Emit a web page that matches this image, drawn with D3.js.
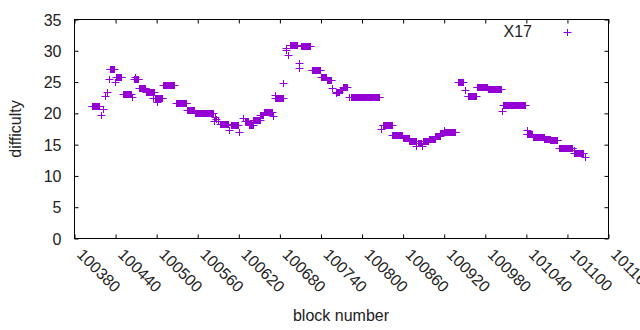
<!DOCTYPE html>
<html>
<head>
<meta charset="utf-8">
<script src="https://cdn.jsdelivr.net/npm/d3@7"></script>
<style>
  html, body { margin: 0; padding: 0; background: #fff; }
  svg { display: block; }
  text { font-family: "Liberation Sans", Arial, sans-serif; font-size: 16px; fill: #222; }
</style>
</head>
<body>
<svg id="chart" width="640" height="330"></svg>
<script>
// ---- data ----
const seriesName = "X17";
const xTickValues = [100380, 100440, 100500, 100560, 100620, 100680, 100740, 100800, 100860, 100920, 100980, 101040, 101100, 101160];
const yTickValues = [0, 5, 10, 15, 20, 25, 30, 35];

const blockNumber = [
  100406,100407,100408,100409,100410,100411,100412,100413,100414,100415,100416,100417,
  100420,100423,100425,100428,100431,
  100432,100433,100434,100435,100436,100437,100438,
  100440,
  100442,100443,100444,100445,100446,100447,100448,100449,
  100452,100453,100454,100455,100456,100457,100458,100459,100460,100461,100462,100463,
  100465,
  100468,100469,100470,100471,100472,100473,100474,100469,
  100475,100476,100477,100478,100479,100480,100481,100482,100483,100484,
  100485,100486,100487,100488,100489,100490,100491,100492,100493,100494,100495,100496,100497,100496,
  100499,100500,100501,100502,100503,100504,100505,100506,100507,100508,100509,100501,
  100510,100511,100512,100513,100514,100515,100516,100517,100518,100519,100520,100521,100522,100523,100524,100525,100526,
  100529,100530,100531,100532,100533,100534,100535,100536,100537,100538,100539,100540,100541,100542,100543,100544,
  100545,100546,100547,100548,100549,100550,100551,100552,100553,100554,100555,100556,
  100557,100558,100559,100560,100561,100562,100563,100564,100565,100566,100567,100568,100569,100570,
  100571,100572,100573,100574,100575,100576,100577,100578,100579,100580,100581,100582,100583,
  100584,100586,100588,100590,
  100593,100594,100595,100596,100597,100598,100599,100600,100601,100602,100603,100604,100605,
  100607,
  100610,100611,100612,100613,100614,100615,100616,100617,100618,100619,
  100621,100627,
  100630,100631,100632,100633,100634,100635,100636,100637,100638,100639,100640,100641,
  100642,100643,100644,100645,100646,100647,100648,100649,100650,100651,
  100652,100653,100654,100655,100656,
  100657,100658,100659,100660,100661,100662,100663,100664,100665,100666,100667,100668,100669,
  100670,100673,
  100674,100675,100676,100677,100678,100679,100680,100681,100682,100683,100684,100685,
  100686,100689,100690,100693,
  100695,100696,100697,100698,100699,100700,100701,100702,100703,100704,100705,100706,
  100708,100709,
  100711,100712,100713,100714,100715,100716,100717,100718,100719,100720,100721,100722,100723,100724,100725,
  100727,100728,100729,100730,100731,100732,100733,100734,100735,100736,100737,100738,100739,100740,
  100741,100742,100743,100744,100745,100746,100747,100748,
  100749,100750,100751,100752,100753,100754,100755,100756,
  100757,100762,
  100763,100764,100765,100766,100767,
  100768,100769,100770,100771,100772,
  100773,100774,100775,100776,100777,100778,100779,
  100781,
  100785,100786,100787,100788,100789,100790,100791,100792,100793,100794,100795,100796,100797,100798,
  100799,100800,100801,100802,100803,100804,100805,100806,100807,100808,100809,100810,100811,100812,
  100813,100814,100815,100816,100817,100818,100819,100820,100821,100822,100823,100824,100825,100826,
  100829,
  100831,100832,100833,100834,100835,100836,100837,100838,100839,100840,100841,100842,100843,100844,
  100845,100846,100847,100848,100849,100850,100851,100852,100853,100854,100855,100856,100857,100858,100859,
  100860,100861,100862,100863,100864,100865,100866,100867,100868,100869,
  100870,100871,100872,100873,100874,100875,100876,100877,100878,100879,
  100880,
  100882,100883,100884,100885,100886,100887,
  100889,
  100890,100891,100892,100893,100894,100895,100896,100897,
  100899,100900,100901,100902,100903,100904,100905,100906,100907,
  100908,100909,100910,100911,100912,100913,100914,
  100915,100916,100917,100918,100919,
  100920,
  100921,100922,100923,100924,100925,100926,100927,100928,100929,100930,100931,100932,100933,100934,100935,100936,100937,
  100941,100942,100943,100944,100945,100946,100947,100948,
  100951,
  100955,100956,100957,100958,100959,100960,100961,100962,100963,100964,100965,100966,100967,
  100968,100969,100970,100971,100972,100973,100974,100975,100976,100977,100978,100979,100980,100981,100982,100983,
  100984,100985,100986,100987,100988,100989,100990,100991,100992,100993,
  100994,100995,100996,100997,100998,100999,101000,101001,101002,101003,
  101005,
  101007,101008,101009,101010,101011,101012,101013,101014,101015,101016,101017,
  101018,101019,101020,101021,101022,101023,101024,101025,101026,101027,101028,
  101029,101030,101031,101032,101033,101034,101035,101036,101037,101038,101039,
  101041,101042,101043,101044,101045,101046,101047,101048,101049,
  101042,
  101050,101051,101052,101053,101054,101055,101056,101057,101058,101059,101060,101061,101062,101063,101064,101065,101066,
  101067,101068,101069,101070,101071,101072,101073,101074,101075,
  101076,101077,101078,101079,101080,101081,101082,101083,101084,101085,101086,
  101089,101090,101091,101092,101093,101094,101095,101096,101097,101098,
  101099,101100,101101,101102,101103,101104,101105,101106,101107,101108,
  101110,
  101111,101112,101113,101114,101115,101116,101117,101118,101119,101120,101121,101122,101123,101124,
  101126
];

const difficulty = [
  21.1,21.1,21.1,21.1,21.1,21.1,21.1,21.1,21.1,21.1,21.1,21.1,
  19.6,20.6,22.7,23.3,25.4,
  27.0,27.0,27.0,27.0,27.0,27.0,27.0,
  24.9,
  25.7,25.7,25.7,25.7,25.7,25.7,25.7,25.7,
  23.0,23.0,23.0,23.0,23.0,23.0,23.0,23.0,23.0,23.0,23.0,23.0,
  22.6,
  25.4,25.4,25.4,25.4,25.4,25.4,25.4,25.7,
  24.0,24.0,24.0,24.0,24.0,24.0,24.0,24.0,24.0,24.0,
  23.4,23.4,23.4,23.4,23.4,23.4,23.4,23.4,23.4,23.4,23.4,23.4,23.4,22.4,
  22.3,22.3,22.3,22.3,22.3,22.3,22.3,22.3,22.3,22.3,22.3,21.7,
  24.4,24.4,24.4,24.4,24.4,24.4,24.4,24.4,24.4,24.4,24.4,24.4,24.4,24.4,24.4,24.4,24.4,
  21.6,21.6,21.6,21.6,21.6,21.6,21.6,21.6,21.6,21.6,21.6,21.6,21.6,21.6,21.6,21.6,
  20.5,20.5,20.5,20.5,20.5,20.5,20.5,20.5,20.5,20.5,20.5,20.5,
  20.0,20.0,20.0,20.0,20.0,20.0,20.0,20.0,20.0,20.0,20.0,20.0,20.0,20.0,
  20.0,20.0,20.0,20.0,20.0,20.0,20.0,20.0,20.0,20.0,20.0,20.0,20.0,
  18.7,19.4,19.0,18.7,
  18.2,18.2,18.2,18.2,18.2,18.2,18.2,18.2,18.2,18.2,18.2,18.2,18.2,
  17.3,
  18.1,18.1,18.1,18.1,18.1,18.1,18.1,18.1,18.1,18.1,
  17.0,19.2,
  18.7,18.7,18.7,18.7,18.7,18.1,18.1,18.1,18.1,18.1,18.1,18.1,
  18.9,18.9,18.9,18.9,18.9,18.9,18.9,18.9,18.9,18.9,
  19.7,19.7,19.7,19.7,19.7,
  20.1,20.1,20.1,20.1,20.1,20.1,20.1,20.1,20.1,20.1,20.1,20.1,20.1,
  19.5,22.9,
  22.3,22.3,22.3,22.3,22.3,22.3,22.3,22.3,22.3,22.3,22.3,22.3,
  24.7,30.4,30.0,29.3,
  30.8,30.8,30.8,30.8,30.8,30.8,30.8,30.8,30.8,30.8,30.8,30.8,
  27.9,27.1,
  30.7,30.7,30.7,30.7,30.7,30.7,30.7,30.7,30.7,30.7,30.7,30.7,30.7,30.7,30.7,
  26.8,26.8,26.8,26.8,26.8,26.8,26.8,26.8,26.8,26.8,26.8,26.8,26.8,26.8,
  25.7,25.7,25.7,25.7,25.7,25.7,25.7,25.7,
  25.2,25.2,25.2,25.2,25.2,25.2,25.2,25.2,
  23.9,23.1,
  23.4,23.4,23.4,23.4,23.4,
  23.7,23.7,23.7,23.7,23.7,
  24.2,24.2,24.2,24.2,24.2,24.2,24.2,
  22.5,
  22.6,22.6,22.6,22.6,22.6,22.6,22.6,22.6,22.6,22.6,22.6,22.6,22.6,22.6,
  22.6,22.6,22.6,22.6,22.6,22.6,22.6,22.6,22.6,22.6,22.6,22.6,22.6,22.6,
  22.6,22.6,22.6,22.6,22.6,22.6,22.6,22.6,22.6,22.6,22.6,22.6,22.6,22.6,
  17.4,
  18.1,18.1,18.1,18.1,18.1,18.1,18.1,18.1,18.1,18.1,18.1,18.1,18.1,18.1,
  16.4,16.4,16.4,16.4,16.4,16.4,16.4,16.4,16.4,16.4,16.4,16.4,16.4,16.4,16.4,
  16.0,16.0,16.0,16.0,16.0,16.0,16.0,16.0,16.0,16.0,
  15.5,15.5,15.5,15.5,15.5,15.5,15.5,15.5,15.5,15.5,
  14.7,
  15.2,15.2,15.2,15.2,15.2,15.2,
  14.7,
  15.5,15.5,15.5,15.5,15.5,15.5,15.5,15.5,
  15.9,15.9,15.9,15.9,15.9,15.9,15.9,15.9,15.9,
  16.3,16.3,16.3,16.3,16.3,16.3,16.3,
  16.8,16.8,16.8,16.8,16.8,
  17.3,
  17.0,17.0,17.0,17.0,17.0,17.0,17.0,17.0,17.0,17.0,17.0,17.0,17.0,17.0,17.0,17.0,17.0,
  25.0,25.0,25.0,25.0,25.0,25.0,25.0,25.0,
  23.7,
  22.7,22.7,22.7,22.7,22.7,22.7,22.7,22.7,22.7,22.7,22.7,22.7,22.7,
  24.1,24.1,24.1,24.1,24.1,24.1,24.1,24.1,24.1,24.1,24.1,24.1,24.1,24.1,24.1,24.1,
  23.8,23.8,23.8,23.8,23.8,23.8,23.8,23.8,23.8,23.8,
  23.8,23.8,23.8,23.8,23.8,23.8,23.8,23.8,23.8,23.8,
  20.3,
  21.3,21.3,21.3,21.3,21.3,21.3,21.3,21.3,21.3,21.3,21.3,
  21.3,21.3,21.3,21.3,21.3,21.3,21.3,21.3,21.3,21.3,21.3,
  21.3,21.3,21.3,21.3,21.3,21.3,21.3,21.3,21.3,21.3,21.3,
  16.7,16.7,16.7,16.7,16.7,16.7,16.7,16.7,16.7,
  17.2,
  16.2,16.2,16.2,16.2,16.2,16.2,16.2,16.2,16.2,16.2,16.2,16.2,16.2,16.2,16.2,16.2,16.2,
  15.8,15.8,15.8,15.8,15.8,15.8,15.8,15.8,15.8,
  15.6,15.6,15.6,15.6,15.6,15.6,15.6,15.6,15.6,15.6,15.6,
  14.4,14.4,14.4,14.4,14.4,14.4,14.4,14.4,14.4,14.4,
  14.4,14.4,14.4,14.4,14.4,14.4,14.4,14.4,14.4,14.4,
  14.0,
  13.6,13.6,13.6,13.6,13.6,13.6,13.6,13.6,13.6,13.6,13.6,13.6,13.6,13.6,
  12.9
];

// ---- chart ----
const svg = d3.select("#chart");
const L = 74.5, R = 608.5, T = 19.5, B = 238.5;
const color = "#9400D3";

const x = d3.scaleLinear().domain([100380, 101160]).range([L, R]);
const y = d3.scaleLinear().domain([0, 35]).range([B, T]);

svg.append("rect").attr("width", 640).attr("height", 330).attr("fill", "#fff");

// axes (inside ticks on all four sides)
const gx = svg.append("g").attr("transform", `translate(0,${B})`)
  .call(d3.axisBottom(x).tickValues(xTickValues).tickSize(-4).tickSizeOuter(0).tickFormat(d3.format("d")));
gx.selectAll("text")
  .attr("y", null).attr("dy", null).attr("x", null)
  .attr("text-anchor", "start")
  .attr("transform", "translate(1,17) rotate(45)")
  .style("font-size", "16px");

svg.append("g").attr("transform", `translate(0,${T})`)
  .call(d3.axisTop(x).tickValues(xTickValues).tickSize(-4).tickSizeOuter(0).tickFormat(""));

const gy = svg.append("g").attr("transform", `translate(${L},0)`)
  .call(d3.axisLeft(y).tickValues(yTickValues).tickSize(-4).tickSizeOuter(0));
gy.selectAll("text").attr("x", -13).attr("dy", "0.35em").style("font-size", "16px");

svg.append("g").attr("transform", `translate(${R},0)`)
  .call(d3.axisRight(y).tickValues(yTickValues).tickSize(-4).tickSizeOuter(0).tickFormat(""));

svg.selectAll(".domain").remove();
svg.selectAll(".tick line").attr("stroke", "#000");
svg.selectAll(".tick text").attr("fill", "#222").style("font-family", '"Liberation Sans", Arial, sans-serif');

svg.append("rect")
  .attr("x", L).attr("y", T).attr("width", R - L).attr("height", B - T)
  .attr("fill", "none").attr("stroke", "#000").attr("stroke-width", 1);

// axis titles
svg.append("text").attr("x", 341).attr("y", 321).attr("text-anchor", "middle").text("block number");
svg.append("text").attr("transform", "translate(21,129) rotate(-90)").attr("text-anchor", "middle").text("difficulty");

// points
const cross = "M-4,0H4M0,-3.5V3.5";
const pts = blockNumber.map((b, i) => ({ b, v: difficulty[i] }));
svg.append("g").selectAll("path").data(pts).join("path")
  .attr("d", cross)
  .attr("transform", d => `translate(${Math.round(x(d.b) - 0.5) + 0.5},${Math.round(y(d.v) - 0.5) + 0.5})`)
  .attr("fill", "none").attr("stroke", color).attr("stroke-width", 1);

// legend
svg.append("text").attr("x", 532).attr("y", 37).attr("text-anchor", "end").text(seriesName);
svg.append("path").attr("d", cross).attr("transform", "translate(567.5,32.5)")
  .attr("fill", "none").attr("stroke", color).attr("stroke-width", 1);
</script>
</body>
</html>
